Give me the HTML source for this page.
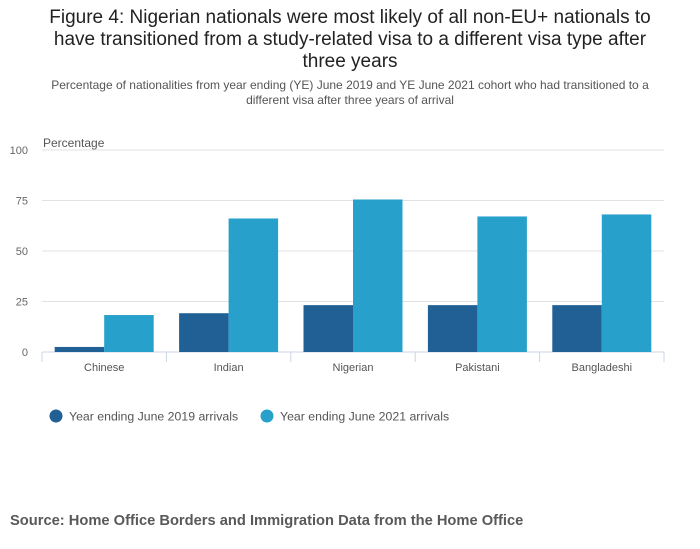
<!DOCTYPE html>
<html><head><meta charset="utf-8"><style>
body{margin:0;width:700px;height:549px;background:#fff;font-family:"Liberation Sans",sans-serif;overflow:hidden;position:relative}
.title{position:absolute;top:7px;left:40px;width:620px;text-align:center;font-size:19px;line-height:22px;color:#222}
.sub{position:absolute;top:78px;left:30px;width:640px;text-align:center;font-size:12px;line-height:15px;color:#555}
.src{position:absolute;top:513px;left:10px;font-size:14.7px;font-weight:bold;color:#595959}
svg{position:absolute;left:0;top:0}
</style></head><body>
<div class="title">Figure 4: Nigerian nationals were most likely of all non-EU+ nationals to have transitioned from a study-related visa to a different visa type after three years</div>
<div class="sub">Percentage of nationalities from year ending (YE) June 2019 and YE June 2021 cohort who had transitioned to a different visa after three years of arrival</div>
<svg id="chart" width="700" height="549"></svg>
<div class="src">Source: Home Office Borders and Immigration Data from the Home Office</div>
<script>
const categories=["Chinese","Indian","Nigerian","Pakistani","Bangladeshi"];
const series2019=[2.5,19.2,23.2,23.2,23.2];
const series2021=[18.3,66.1,75.5,67.1,68.1];
const yTicks=[0,25,50,75,100];
const seriesNames=["Year ending June 2019 arrivals","Year ending June 2021 arrivals"];
const colors=["#206095","#27a0cc"];
const svg=document.getElementById('chart');
const NS='http://www.w3.org/2000/svg';
const L=42,R=664,T=150,B=352;
const y=v=>B-(v/100)*(B-T);
const bw=(R-L)/categories.length;
const x=i=>L+i*bw;
function mk(t,a,txt){const e=document.createElementNS(NS,t);for(const k in a)e.setAttribute(k,a[k]);if(txt!=null)e.textContent=txt;svg.appendChild(e);return e;}
yTicks.forEach(v=>{
  const g=mk('line',{x1:L,x2:R,y1:y(v),y2:y(v),stroke:v===0?'#ccd4e4':'#e2e2e2','stroke-width':1});
  
  
  const t=mk('text',{x:28,y:y(v)+4,'text-anchor':'end','font-size':11,fill:'#666'},v);
  
  
});
const yt=mk('text',{x:43,y:147,'font-size':12,fill:'#555'},'Percentage');


for(let i=0;i<=categories.length;i++){
  const tk=mk('line',{x1:x(i),x2:x(i),y1:B,y2:B+10,stroke:'#ccd4e4'});
  
  
}
const pad=12.7,barW=(bw-2*pad)/2;
categories.forEach((c,i)=>{
  [series2019,series2021].forEach((s,j)=>{
    const r=mk('rect',{x:x(i)+pad+j*barW,y:y(s[i]),width:barW,height:B-y(s[i]),fill:colors[j]});
    
    
  });
  const t=mk('text',{x:x(i)+bw/2,y:371,'text-anchor':'middle','font-size':11,fill:'#555'},c);
  
  
});
const lx=[56,267];
seriesNames.forEach((n,j)=>{
  const c=mk('circle',{cx:lx[j],cy:416,r:6.5,fill:colors[j]});
  
  
  const t=mk('text',{x:lx[j]+13,y:420.5,'font-size':12.3,fill:'#555'},n);
  
  
});
</script>
</body></html>
